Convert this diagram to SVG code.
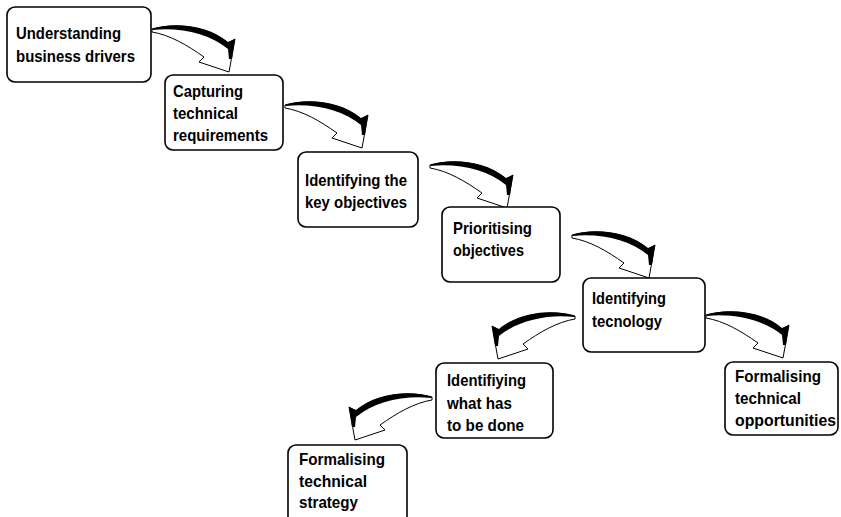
<svg xmlns="http://www.w3.org/2000/svg" xmlns:xlink="http://www.w3.org/1999/xlink" width="841" height="517" viewBox="0 0 841 517">
<style>
.box{fill:#fff;stroke:#000;stroke-width:1.6}
.lbl{font-family:"Liberation Sans",Arial,sans-serif;font-weight:bold;font-size:16.5px;fill:#000}
.arw{fill:#fff;stroke:#000;stroke-width:1;stroke-linejoin:miter}
.band{fill:#000}
</style>
<defs>
<g id="arrow">
<path class="arw" d="M0,0 C20,-6 55,-4 76,14 L83,10 L77,43 L47,33 L52,28 C35,16 18,6 0,3 Z"/>
<path class="band" d="M0,0 C20,-7 55,-5 76,13 L83,10 L80,30 L77,30 L76,20 C58,5 28,-2 1,1 Z"/>
</g>
</defs>
<rect width="841" height="517" fill="#fff"/>
<g id="connectors">
<use xlink:href="#arrow" transform="translate(152,29)"/>
<use xlink:href="#arrow" transform="translate(285,105)"/>
<use xlink:href="#arrow" transform="translate(430,165)"/>
<use xlink:href="#arrow" transform="translate(572,235)"/>
<use xlink:href="#arrow" transform="translate(575,316) scale(-1,1)"/>
<use xlink:href="#arrow" transform="translate(706,315)"/>
<use xlink:href="#arrow" transform="translate(432,397) scale(-1,1)"/>
</g>
<g id="n1"><rect class="box" x="7" y="7" width="144" height="75" rx="8"/>
<text class="lbl" x="16" y="39" textLength="105" lengthAdjust="spacingAndGlyphs">Understanding</text><text class="lbl" x="16" y="62" textLength="119" lengthAdjust="spacingAndGlyphs">business drivers</text></g>
<g id="n2"><rect class="box" x="165" y="75" width="118" height="75" rx="8"/>
<text class="lbl" x="173" y="97" textLength="70" lengthAdjust="spacingAndGlyphs">Capturing</text><text class="lbl" x="173" y="119" textLength="65" lengthAdjust="spacingAndGlyphs">technical</text><text class="lbl" x="173" y="141" textLength="95" lengthAdjust="spacingAndGlyphs">requirements</text></g>
<g id="n3"><rect class="box" x="298" y="152" width="120" height="75" rx="8"/>
<text class="lbl" x="305" y="186" textLength="102" lengthAdjust="spacingAndGlyphs">Identifying the</text><text class="lbl" x="305" y="208" textLength="102" lengthAdjust="spacingAndGlyphs">key objectives</text></g>
<g id="n4"><rect class="box" x="442" y="207" width="118" height="75" rx="8"/>
<text class="lbl" x="453" y="234" textLength="79" lengthAdjust="spacingAndGlyphs">Prioritising</text><text class="lbl" x="453" y="256" textLength="71" lengthAdjust="spacingAndGlyphs">objectives</text></g>
<g id="n5"><rect class="box" x="583" y="278" width="122" height="74" rx="8"/>
<text class="lbl" x="592" y="304" textLength="74" lengthAdjust="spacingAndGlyphs">Identifying</text><text class="lbl" x="592" y="327" textLength="70" lengthAdjust="spacingAndGlyphs">tecnology</text></g>
<g id="n6"><rect class="box" x="436" y="363" width="117" height="75" rx="8"/>
<text class="lbl" x="447" y="386" textLength="79" lengthAdjust="spacingAndGlyphs">Identifiying</text><text class="lbl" x="447" y="409" textLength="65" lengthAdjust="spacingAndGlyphs">what has</text><text class="lbl" x="447" y="431" textLength="77" lengthAdjust="spacingAndGlyphs">to be done</text></g>
<g id="n7"><rect class="box" x="725" y="362" width="113" height="73" rx="8"/>
<text class="lbl" x="735" y="382" textLength="86" lengthAdjust="spacingAndGlyphs">Formalising</text><text class="lbl" x="735" y="404" textLength="66" lengthAdjust="spacingAndGlyphs">technical</text><text class="lbl" x="735" y="426" textLength="101" lengthAdjust="spacingAndGlyphs">opportunities</text></g>
<g id="n8"><rect class="box" x="288" y="445" width="119" height="80" rx="8"/>
<text class="lbl" x="299" y="465" textLength="86" lengthAdjust="spacingAndGlyphs">Formalising</text><text class="lbl" x="299" y="487" textLength="68" lengthAdjust="spacingAndGlyphs">technical</text><text class="lbl" x="299" y="508" textLength="59" lengthAdjust="spacingAndGlyphs">strategy</text></g>
</svg>
